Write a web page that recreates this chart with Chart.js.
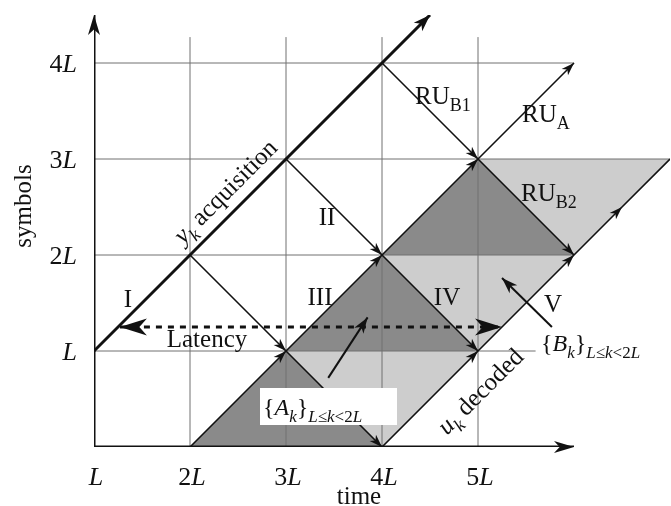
<!DOCTYPE html>
<html>
<head>
<meta charset="utf-8">
<script src="https://cdn.jsdelivr.net/npm/chart.js@4.4.1/dist/chart.umd.min.js"></script>
<style>
  html, body { margin: 0; padding: 0; background: #fff; }
  #wrap { width: 671px; height: 506px; }
</style>
</head>
<body>
<div id="wrap"><canvas id="chart" width="671" height="506"></canvas></div>
<script>
// tick values in units of L
const xTicks = [1, 2, 3, 4, 5];
const xTickLabels = ['L', '2L', '3L', '4L', '5L'];
const yTicks = [1, 2, 3, 4];
const yTickLabels = ['L', '2L', '3L', '4L'];

// grid: vertical lines stop at gridXTop, horizontal ones end at gridYEnd
const gridX = [2, 3, 4, 5];
const gridXTop = 4.27;
const gridY = [1, 2, 3, 4];
const gridYEnd = [5.6, 6, 7, 6];

const axisX = [1, 6];
const axisY = [0, 4.5];

// y_k acquisition (thick) and u_k decoded
const acquisition = [[1, 1], [4.5, 4.5]];
const decoded = [[4, 0], [5, 1], [6, 2], [6.5, 2.5], [7, 3]];
const decodedArrows = [1, 2, 3]; // arrowheads at these points

// RU arrows [x1, y1, x2, y2], head at the end
const ruArrows = [
  [2, 2, 3, 1], [3, 3, 4, 2], [4, 4, 5, 3],
  [3, 1, 4, 0], [4, 2, 5, 1], [5, 3, 6, 2],
  [2, 0, 3, 1], [3, 1, 4, 2], [4, 2, 5, 3], [5, 3, 6, 4]
];

const darkTriangles = [
  [[2, 0], [3, 1], [4, 0]],
  [[3, 1], [4, 2], [5, 1]],
  [[4, 2], [5, 3], [6, 2]]
];
const lightTriangles = [
  [[3, 1], [4, 0], [5, 1]],
  [[4, 2], [5, 1], [6, 2]],
  [[5, 3], [6, 2], [7, 3]]
];

const latency = [[1.27, 1.25], [5.25, 1.25]];
const setArrowA = [[3.44, 0.72], [3.85, 1.35]];
const setArrowB = [[5.77, 1.25], [5.25, 1.76]];

const serif = '"Liberation Serif", "Times New Roman", serif';
const ink = '#111';

function pts(arr) {
  return arr.map(p => ({ x: p[0], y: p[1] }));
}

function lineSet(arr, width, color, order, extra) {
  return Object.assign({
    data: pts(arr),
    borderColor: color,
    borderWidth: width,
    pointRadius: 0,
    fill: false,
    order: order
  }, extra || {});
}

const datasets = [];

darkTriangles.forEach(t => {
  datasets.push(lineSet(t, 0, 'rgba(0,0,0,0)', 5, {
    fill: { value: t[0][1] }, backgroundColor: '#8a8a8a'
  }));
});
lightTriangles.forEach(t => {
  datasets.push(lineSet(t, 0, 'rgba(0,0,0,0)', 5, {
    fill: { value: t[0][1] }, backgroundColor: '#cdcdcd'
  }));
});

gridX.forEach(x => datasets.push(lineSet([[x, 0], [x, gridXTop]], 1, '#707070', 4)));
gridY.forEach((y, i) => datasets.push(lineSet([[1, y], [gridYEnd[i], y]], 1, '#707070', 4)));

ruArrows.forEach(s => datasets.push(lineSet([[s[0], s[1]], [s[2], s[3]]], 1.6, ink, 3)));
datasets.push(lineSet(decoded, 1.6, ink, 3));
datasets.push(lineSet(acquisition, 3, ink, 2));
datasets.push(lineSet(latency, 3, ink, 2, { borderDash: [6, 6] }));
datasets.push(lineSet(setArrowA, 2, ink, 1));
datasets.push(lineSet(setArrowB, 2, ink, 1));
datasets.push(lineSet([[axisX[0], 0], [axisX[1], 0]], 3, ink, 1));
datasets.push(lineSet([[1, axisY[0]], [1, axisY[1]]], 3, ink, 1));

function head(ctx, x1, y1, x2, y2, len, half) {
  const a = Math.atan2(y2 - y1, x2 - x1);
  ctx.save();
  ctx.translate(x2, y2);
  ctx.rotate(a);
  ctx.beginPath();
  ctx.moveTo(0, 0);
  ctx.lineTo(-len, -half);
  ctx.lineTo(-len * 0.72, 0);
  ctx.lineTo(-len, half);
  ctx.closePath();
  ctx.fill();
  ctx.restore();
}

// text runs: {t, it, sub}
function runs(ctx, x, y, list, size, align) {
  const subSize = Math.round(size * 0.72);
  let total = 0;
  list.forEach(r => {
    ctx.font = (r.it ? 'italic ' : '') + (r.sub ? subSize : size) + 'px ' + serif;
    r.w = ctx.measureText(r.t).width;
    total += r.w;
  });
  let cx = align === 'right' ? x - total : align === 'left' ? x : x - total / 2;
  ctx.textBaseline = 'alphabetic';
  ctx.textAlign = 'left';
  list.forEach(r => {
    ctx.font = (r.it ? 'italic ' : '') + (r.sub ? subSize : size) + 'px ' + serif;
    ctx.fillText(r.t, cx, y + (r.sub ? size * 0.28 : 0));
    cx += r.w;
  });
}

function tickRuns(label) {
  const num = label.slice(0, -1);
  const out = [];
  if (num) out.push({ t: num });
  out.push({ t: 'L', it: true });
  return out;
}

function setRuns(letter) {
  return [
    { t: '{' }, { t: letter, it: true }, { t: 'k', it: true, sub: true }, { t: '}' },
    { t: 'L', it: true, sub: true }, { t: '\u2264', sub: true }, { t: 'k', it: true, sub: true },
    { t: '<2', sub: true }, { t: 'L', it: true, sub: true }
  ];
}

const decor = {
  id: 'decor',
  afterDatasetsDraw(chart) {
    const ctx = chart.ctx;
    const xs = chart.scales.x, ys = chart.scales.y;
    const px = v => xs.getPixelForValue(v);
    const py = v => ys.getPixelForValue(v);
    ctx.save();
    ctx.fillStyle = ink;

    ruArrows.forEach(s => head(ctx, px(s[0]), py(s[1]), px(s[2]), py(s[3]), 13, 4.5));
    decodedArrows.forEach(i => {
      const a = decoded[i - 1], b = decoded[i];
      head(ctx, px(a[0]), py(a[1]), px(b[0]), py(b[1]), 13, 4.5);
    });
    head(ctx, px(acquisition[0][0]), py(acquisition[0][1]), px(acquisition[1][0]), py(acquisition[1][1]), 17, 6);
    head(ctx, px(axisX[0]), py(0), px(axisX[1]), py(0), 20, 6);
    head(ctx, px(1), py(axisY[0]), px(1), py(axisY[1]), 20, 6);
    head(ctx, px(latency[1][0]), py(latency[1][1]), px(latency[0][0]), py(latency[0][1]), 27, 8.5);
    head(ctx, px(latency[0][0]), py(latency[0][1]), px(latency[1][0]), py(latency[1][1]), 27, 8.5);
    head(ctx, px(setArrowA[0][0]), py(setArrowA[0][1]), px(setArrowA[1][0]), py(setArrowA[1][1]), 16, 5.5);
    head(ctx, px(setArrowB[0][0]), py(setArrowB[0][1]), px(setArrowB[1][0]), py(setArrowB[1][1]), 16, 5.5);

    // tick labels
    xTicks.forEach((v, i) => runs(ctx, px(v) + 2, 485, tickRuns(xTickLabels[i]), 26, 'center'));
    yTicks.forEach((v, i) => runs(ctx, 77, py(v) + 9, tickRuns(yTickLabels[i]), 26, 'right'));

    // axis titles
    runs(ctx, 359, 504, [{ t: 'time' }], 25, 'center');
    ctx.save();
    ctx.translate(31, 206);
    ctx.rotate(-Math.PI / 2);
    runs(ctx, 0, 0, [{ t: 'symbols' }], 25, 'center');
    ctx.restore();

    // region labels
    runs(ctx, 128, 307, [{ t: 'I' }], 25, 'center');
    runs(ctx, 327, 225, [{ t: 'II' }], 25, 'center');
    runs(ctx, 320, 305, [{ t: 'III' }], 25, 'center');
    runs(ctx, 447, 305, [{ t: 'IV' }], 25, 'center');
    runs(ctx, 553, 312, [{ t: 'V' }], 25, 'center');
    runs(ctx, 207, 347, [{ t: 'Latency' }], 25, 'center');

    runs(ctx, 415, 104, [{ t: 'RU' }, { t: 'B1', sub: true }], 25, 'left');
    runs(ctx, 522, 122, [{ t: 'RU' }, { t: 'A', sub: true }], 25, 'left');
    runs(ctx, 521, 201, [{ t: 'RU' }, { t: 'B2', sub: true }], 25, 'left');

    // rotated labels along the lines
    ctx.save();
    ctx.translate(226, 192);
    ctx.rotate(-Math.PI / 4);
    runs(ctx, 0, 7, [{ t: 'y', it: true }, { t: 'k', it: true, sub: true }, { t: ' acquisition' }], 25, 'center');
    ctx.restore();
    ctx.save();
    ctx.translate(481, 392);
    ctx.rotate(-Math.PI / 4);
    runs(ctx, 0, 7, [{ t: 'u', it: true }, { t: 'k', it: true, sub: true }, { t: ' decoded' }], 25, 'center');
    ctx.restore();

    // set labels
    ctx.fillStyle = '#fff';
    ctx.fillRect(260, 388, 137, 37);
    ctx.fillStyle = ink;
    runs(ctx, 263, 415, setRuns('A'), 24, 'left');
    runs(ctx, 541, 351, setRuns('B'), 24, 'left');

    ctx.restore();
  }
};

new Chart(document.getElementById('chart'), {
  type: 'line',
  data: { datasets: datasets },
  options: {
    responsive: false,
    animation: false,
    events: [],
    layout: { padding: { left: 94, right: 1, top: 15, bottom: 59 } },
    scales: {
      x: { type: 'linear', min: 1, max: 7, display: false },
      y: { type: 'linear', min: 0, max: 4.5, display: false }
    },
    plugins: {
      legend: { display: false },
      tooltip: { enabled: false }
    },
    elements: { line: { tension: 0, borderCapStyle: 'butt' } }
  },
  plugins: [decor]
});
</script>
</body>
</html>
